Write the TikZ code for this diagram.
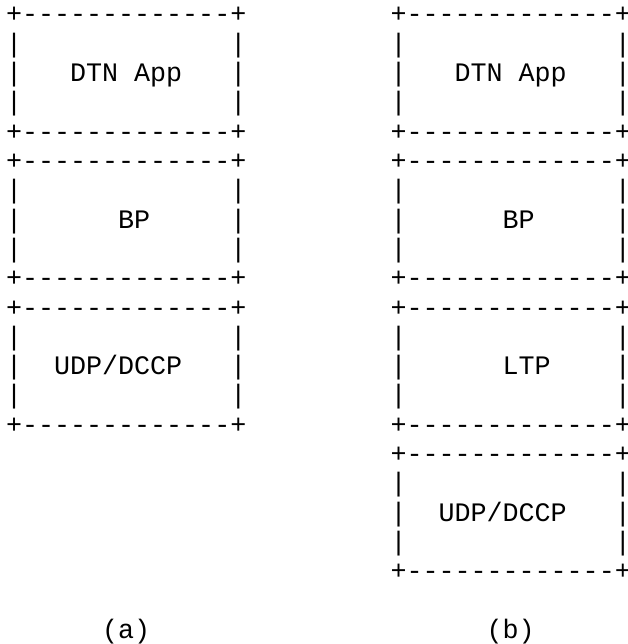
\documentclass[tikz,border=0pt]{standalone}
\usepackage{fontspec}
\newfontfamily\asciifont{Liberation Mono}[Ligatures=TeXOff]
\tikzset{
  ascii/.style={anchor=base west, inner sep=0pt, outer sep=0pt,
    font=\asciifont\fontsize{26.7}{29.3}\selectfont, text=black}
}
% one 5-line ASCII box: name, x (pt), first row, middle line
\newcommand\asciibox[4]{%
  \node[ascii] (#1t)  at ({#2},{23+29.3*(#3)})   {+-------------+\kern-4.5pt};
  \node[ascii] (#1u)  at ({#2},{23+29.3*(#3+1)}) {|~~~~~~~~~~~~~|\kern-4.5pt};
  \node[ascii] (#1m)  at ({#2},{23+29.3*(#3+2)}) {#4\kern-4.5pt};
  \node[ascii] (#1l)  at ({#2},{23+29.3*(#3+3)}) {|~~~~~~~~~~~~~|\kern-4.5pt};
  \node[ascii] (#1b)  at ({#2},{23+29.3*(#3+4)}) {+-------------+\kern-4.5pt};
}
\begin{document}
\begin{tikzpicture}[x=1pt,y=-1pt]
  \path[use as bounding box] (0,0) rectangle (627,644);
  % stack (a)
  \asciibox{aapp}{6}{0}{|~~~DTN~App~~~|}
  \asciibox{abp}{6}{5}{|~~~~~~BP~~~~~|}
  \asciibox{audp}{6}{10}{|~~UDP/DCCP~~~|}
  % stack (b)
  \asciibox{bapp}{390.5}{0}{|~~~DTN~App~~~|}
  \asciibox{bbp}{390.5}{5}{|~~~~~~BP~~~~~|}
  \asciibox{bltp}{390.5}{10}{|~~~~~~LTP~~~~|}
  \asciibox{budp}{390.5}{15}{|~~UDP/DCCP~~~|}
  % captions
  \node[ascii] (capa) at (102.1,{23+29.3*21}) {(a)};
  \node[ascii] (capb) at (486.6,{23+29.3*21}) {(b)};
\end{tikzpicture}
\end{document}
